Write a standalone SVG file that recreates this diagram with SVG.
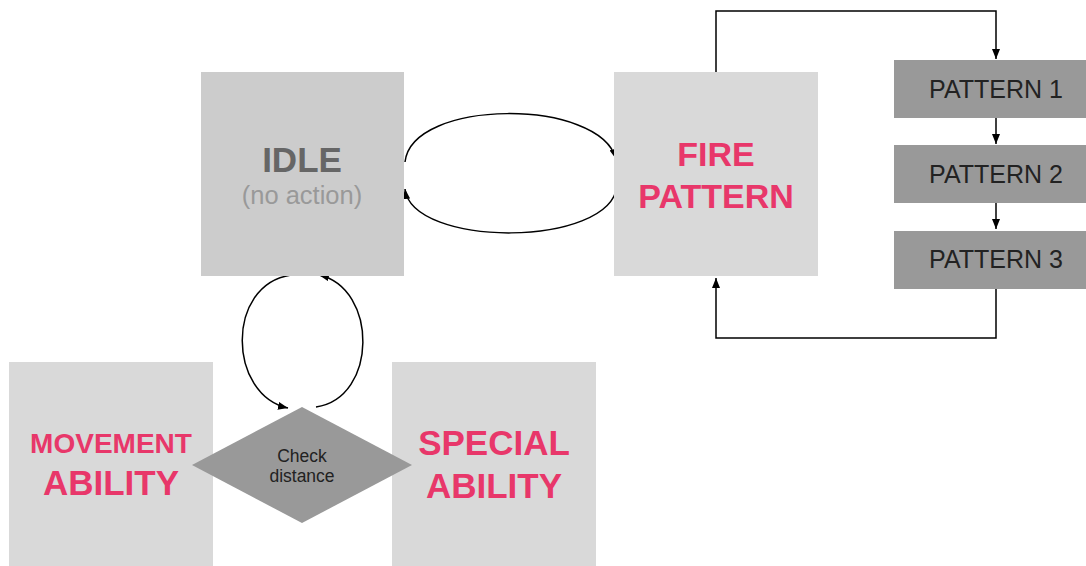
<svg xmlns="http://www.w3.org/2000/svg" width="1086" height="566" viewBox="0 0 1086 566">
  <style>
    .state { fill: #d9d9d9; }
    .idle { fill: #cccccc; }
    .step { fill: #999999; }
    .big { font-family: "Liberation Sans", Arial, sans-serif; font-weight: bold; text-anchor: middle; fill: #e8376a; }
    .lbl { font-family: "Liberation Sans", Arial, sans-serif; text-anchor: middle; fill: #222222; }
    .wire { fill: none; stroke: #000000; stroke-width: 1.5; marker-end: url(#arrow); }
  </style>
  <defs>
    <marker id="arrow" markerUnits="userSpaceOnUse" markerWidth="10" markerHeight="8" refX="10" refY="4" orient="auto">
      <path d="M0,0 L10,4 L0,8 z" fill="#000000"/>
    </marker>
  </defs>
  <rect width="1086" height="566" fill="#ffffff"/>

  <!-- connectors -->
  <g id="connectors">
    <path class="wire" d="M405,162 C412,98 600,98 616,159"/>
    <path class="wire" d="M617,186 C610,248 412,248 405,189"/>
    <path class="wire" d="M716,72 L716,11 L996,11 L996,59"/>
    <path class="wire" d="M996,118 L996,144"/>
    <path class="wire" d="M996,203 L996,229"/>
    <path class="wire" d="M996,289 L996,338 L716,338 L716,278"/>
    <path class="wire" d="M291,275 C225,285 228,395 288,408"/>
    <path class="wire" d="M316,407 C378,398 378,288 319,275"/>
  </g>

  <g id="idle">
    <rect class="idle" x="201" y="72" width="203" height="204"/>
    <text x="302" y="172" font-family="Liberation Sans, Arial, sans-serif" font-weight="bold" font-size="35" text-anchor="middle" fill="#666666">IDLE</text>
    <text x="302" y="204" font-family="Liberation Sans, Arial, sans-serif" font-size="25.5" text-anchor="middle" fill="#999999">(no action)</text>
  </g>

  <g id="fire-pattern">
    <rect class="state" x="614" y="72" width="204" height="204"/>
    <text class="big" x="716" y="166" font-size="34">FIRE</text>
    <text class="big" x="716" y="208" font-size="34">PATTERN</text>
  </g>

  <g id="pattern-1">
    <rect class="step" x="894" y="60" width="204" height="58"/>
    <text class="lbl" x="996" y="98" font-size="25">PATTERN 1</text>
  </g>
  <g id="pattern-2">
    <rect class="step" x="894" y="145" width="204" height="58"/>
    <text class="lbl" x="996" y="183" font-size="25">PATTERN 2</text>
  </g>
  <g id="pattern-3">
    <rect class="step" x="894" y="231" width="204" height="58"/>
    <text class="lbl" x="996" y="268" font-size="25">PATTERN 3</text>
  </g>

  <g id="movement-ability">
    <rect class="state" x="9" y="362" width="204" height="204"/>
    <text class="big" x="111" y="453" font-size="28">MOVEMENT</text>
    <text class="big" x="111" y="495" font-size="35">ABILITY</text>
  </g>

  <g id="special-ability">
    <rect class="state" x="392" y="362" width="204" height="204"/>
    <text class="big" x="494" y="455" font-size="35">SPECIAL</text>
    <text class="big" x="494" y="498" font-size="35">ABILITY</text>
  </g>

  <g id="check-distance">
    <polygon class="step" points="302,407 412,465 302,523 192,465"/>
    <text class="lbl" x="302" y="462" font-size="17.5">Check</text>
    <text class="lbl" x="302" y="482" font-size="17.5">distance</text>
  </g>
</svg>
